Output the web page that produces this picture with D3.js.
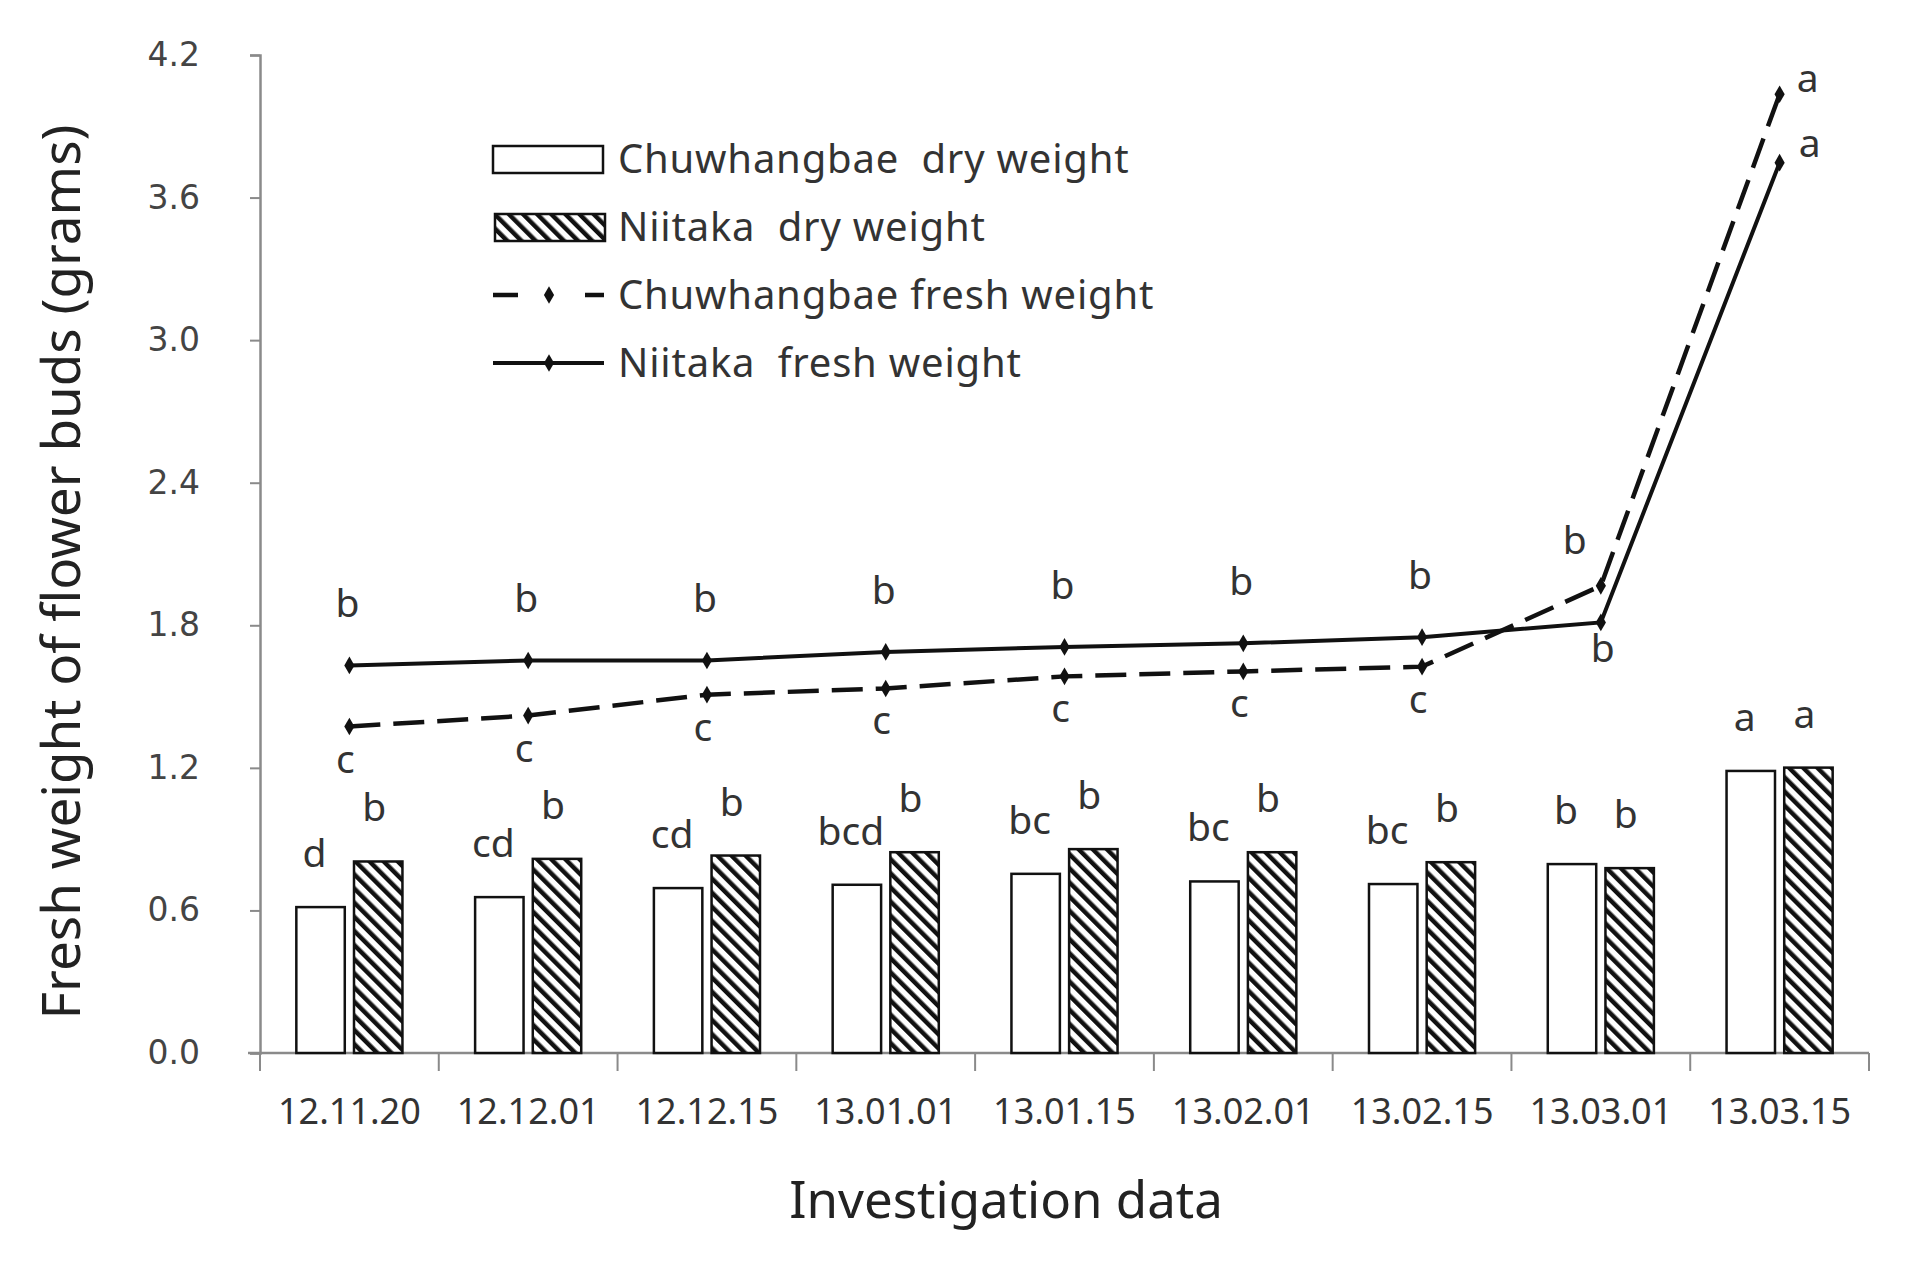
<!DOCTYPE html>
<html>
<head>
<meta charset="utf-8">
<script src="https://cdn.jsdelivr.net/npm/d3@7"></script>
<style>
  body { margin: 0; background: #fff; }
  svg { display: block; }
</style>
</head>
<body>
<svg id="chart" width="1918" height="1271"></svg>
<script>
const dates = ['12.11.20','12.12.01','12.12.15','13.01.01','13.01.15','13.02.01','13.02.15','13.03.01','13.03.15'];
const chuDry = [0.614, 0.656, 0.694, 0.708, 0.754, 0.722, 0.711, 0.795, 1.187];
const niiDry = [0.806, 0.817, 0.831, 0.845, 0.858, 0.845, 0.803, 0.778, 1.201];
const chuFresh = [1.374, 1.420, 1.508, 1.534, 1.585, 1.606, 1.626, 1.966, 4.035];
const niiFresh = [1.631, 1.652, 1.652, 1.688, 1.709, 1.724, 1.750, 1.812, 3.747];
const chuDryLetters = ['d','cd','cd','bcd','bc','bc','bc','b','a'];
const niiDryLetters = ['b','b','b','b','b','b','b','b','a'];
const chuFreshLetters = ['c','c','c','c','c','c','c','b','a'];
const niiFreshLetters = ['b','b','b','b','b','b','b','b','a'];
const yTicks = [0, 0.6, 1.2, 1.8, 2.4, 3.0, 3.6, 4.2];

const svg = d3.select('#chart');
const plotLeft = 260, plotRight = 1869, plotBottom = 1053, plotTop = 55;

const x = d3.scaleBand().domain(dates).range([plotLeft, plotRight]).padding(0);
const xSub = d3.scaleBand().domain(['chu','nii']).range([0, x.bandwidth()])
  .paddingInner(0.16).paddingOuter(0.63);
const y = d3.scaleLinear().domain([0, 4.2]).range([plotBottom, plotTop]);

// hatch pattern for Niitaka dry weight
const defs = svg.append('defs');
const pat = defs.append('pattern')
  .attr('id', 'hatch')
  .attr('patternUnits', 'userSpaceOnUse')
  .attr('width', 10).attr('height', 10)
  .attr('patternTransform', 'rotate(-45)');
pat.append('rect').attr('width', 10).attr('height', 10).attr('fill', '#fff');
pat.append('rect').attr('x', 0).attr('y', 0).attr('width', 4.5).attr('height', 10).attr('fill', '#111');

// axes
const yAxis = d3.axisLeft(y).tickValues(yTicks).tickFormat(d3.format('.1f')).tickSize(10).tickPadding(50);
const gy = svg.append('g').attr('transform', `translate(${plotLeft},0)`).call(yAxis);
gy.select('.domain').attr('stroke', '#8a8a8a').attr('stroke-width', 2.5);
gy.selectAll('.tick line').attr('stroke', '#8a8a8a').attr('stroke-width', 2);
gy.selectAll('.tick text')
  .attr('font-family', 'DejaVu Sans').attr('font-size', 33)
  .attr('fill', '#444');

const gx = svg.append('g').attr('transform', `translate(0,${plotBottom})`);
gx.append('line').attr('x1', plotLeft - 12).attr('x2', plotRight).attr('y1', 0).attr('y2', 0)
  .attr('stroke', '#8a8a8a').attr('stroke-width', 2.5);
gx.selectAll('.xtick').data(dates.concat(['end']))
  .join('line')
  .attr('class', 'xtick')
  .attr('x1', (d, i) => plotLeft + i * x.step())
  .attr('x2', (d, i) => plotLeft + i * x.step())
  .attr('y1', 0).attr('y2', 18)
  .attr('stroke', '#8a8a8a').attr('stroke-width', 2);
gx.selectAll('.xlab').data(dates)
  .join('text')
  .attr('class', 'xlab')
  .attr('x', d => x(d) + x.bandwidth() / 2)
  .attr('y', 71)
  .attr('text-anchor', 'middle')
  .attr('font-family', 'Noto Sans').attr('font-size', 36)
  .attr('fill', '#333')
  .text(d => d);

// bars
const barG = svg.append('g');
barG.selectAll('.chu').data(chuDry).join('rect')
  .attr('class', 'chu')
  .attr('x', (d, i) => x(dates[i]) + xSub('chu'))
  .attr('y', d => y(d))
  .attr('width', xSub.bandwidth())
  .attr('height', d => plotBottom - y(d))
  .attr('fill', '#fff').attr('stroke', '#111').attr('stroke-width', 2.5);
barG.selectAll('.nii').data(niiDry).join('rect')
  .attr('class', 'nii')
  .attr('x', (d, i) => x(dates[i]) + xSub('nii'))
  .attr('y', d => y(d))
  .attr('width', xSub.bandwidth())
  .attr('height', d => plotBottom - y(d))
  .attr('fill', 'url(#hatch)').attr('stroke', '#111').attr('stroke-width', 2.5);

const letterStyle = sel => sel
  .attr('font-family', 'Noto Sans').attr('font-size', 39)
  .attr('fill', '#333').attr('text-anchor', 'middle');

barG.selectAll('.chuL').data(chuDryLetters).join('text')
  .attr('class', 'chuL')
  .attr('x', (d, i) => x(dates[i]) + xSub('chu') + xSub.bandwidth() / 2 - 6)
  .attr('y', (d, i) => y(chuDry[i]) - 40)
  .call(letterStyle).text(d => d);
barG.selectAll('.niiL').data(niiDryLetters).join('text')
  .attr('class', 'niiL')
  .attr('x', (d, i) => x(dates[i]) + xSub('nii') + xSub.bandwidth() / 2 - 4)
  .attr('y', (d, i) => y(niiDry[i]) - 40)
  .call(letterStyle).text(d => d);

// lines
const cx = i => x(dates[i]) + x.bandwidth() / 2;
const line = d3.line().x((d, i) => cx(i)).y(d => y(d));
const diamond = d3.symbol().type(d3.symbolDiamond).size(90);

svg.append('path').datum(niiFresh)
  .attr('d', line).attr('fill', 'none')
  .attr('stroke', '#111').attr('stroke-width', 4);
svg.append('path').datum(chuFresh)
  .attr('d', line).attr('fill', 'none')
  .attr('stroke', '#111').attr('stroke-width', 4.5)
  .attr('stroke-dasharray', '31,13');

svg.selectAll('.mkN').data(niiFresh).join('path')
  .attr('class', 'mkN').attr('d', diamond)
  .attr('transform', (d, i) => `translate(${cx(i)},${y(d)})`).attr('fill', '#111');
svg.selectAll('.mkC').data(chuFresh).join('path')
  .attr('class', 'mkC').attr('d', diamond)
  .attr('transform', (d, i) => `translate(${cx(i)},${y(d)})`).attr('fill', '#111');

// letters on fresh weight lines
const last = dates.length - 1;
svg.selectAll('.nfL').data(niiFreshLetters).join('text')
  .attr('class', 'nfL')
  .attr('x', (d, i) => i === last ? cx(i) + 30 : cx(i) + (i === last - 1 ? 2 : -2))
  .attr('y', (d, i) => i === last ? y(niiFresh[i]) - 6 : i === last - 1 ? y(niiFresh[i]) + 40 : y(niiFresh[i]) - 48)
  .call(letterStyle).text(d => d);
svg.selectAll('.cfL').data(chuFreshLetters).join('text')
  .attr('class', 'cfL')
  .attr('x', (d, i) => i === last ? cx(i) + 28 : i === last - 1 ? cx(i) - 26 : cx(i) - 4)
  .attr('y', (d, i) => i === last ? y(chuFresh[i]) - 2 : i === last - 1 ? y(chuFresh[i]) - 32 : y(chuFresh[i]) + 46)
  .call(letterStyle).text(d => d);

// legend
const legendItems = ['Chuwhangbae  dry weight', 'Niitaka  dry weight', 'Chuwhangbae fresh weight', 'Niitaka  fresh weight'];
const lg = svg.append('g').attr('transform', 'translate(493,159)');
const rowH = 68;
lg.append('rect').attr('x', 0).attr('y', -13).attr('width', 110).attr('height', 27)
  .attr('fill', '#fff').attr('stroke', '#111').attr('stroke-width', 2.5);
lg.append('rect').attr('x', 2).attr('y', rowH - 13).attr('width', 110).attr('height', 27)
  .attr('fill', 'url(#hatch)').attr('stroke', '#111').attr('stroke-width', 2.5);
lg.append('line').attr('x1', 0).attr('x2', 111).attr('y1', rowH * 2).attr('y2', rowH * 2)
  .attr('stroke', '#111').attr('stroke-width', 4.5).attr('stroke-dasharray', '25,67');
lg.append('path').attr('d', diamond).attr('transform', `translate(56,${rowH * 2})`).attr('fill', '#111');
lg.append('line').attr('x1', 0).attr('x2', 111).attr('y1', rowH * 3).attr('y2', rowH * 3)
  .attr('stroke', '#111').attr('stroke-width', 4);
lg.append('path').attr('d', diamond).attr('transform', `translate(56,${rowH * 3})`).attr('fill', '#111');
lg.selectAll('.lt').data(legendItems).join('text')
  .attr('class', 'lt')
  .attr('x', 125)
  .attr('y', (d, i) => i * rowH + 14)
  .attr('font-family', 'Noto Sans').attr('font-size', 40)
  .attr('letter-spacing', 0.8)
  .attr('fill', '#333')
  .style('white-space', 'pre')
  .text(d => d);

// axis titles
svg.append('text')
  .attr('x', 1006).attr('y', 1218)
  .attr('text-anchor', 'middle')
  .attr('font-family', 'Noto Sans').attr('font-size', 51)
  .attr('fill', '#222')
  .text('Investigation data');
svg.append('text')
  .attr('transform', 'translate(80,572) rotate(-90)')
  .attr('text-anchor', 'middle')
  .attr('font-family', 'Noto Sans').attr('font-size', 53)
  .attr('fill', '#222')
  .text('Fresh weight of flower buds (grams)');
</script>
</body>
</html>
